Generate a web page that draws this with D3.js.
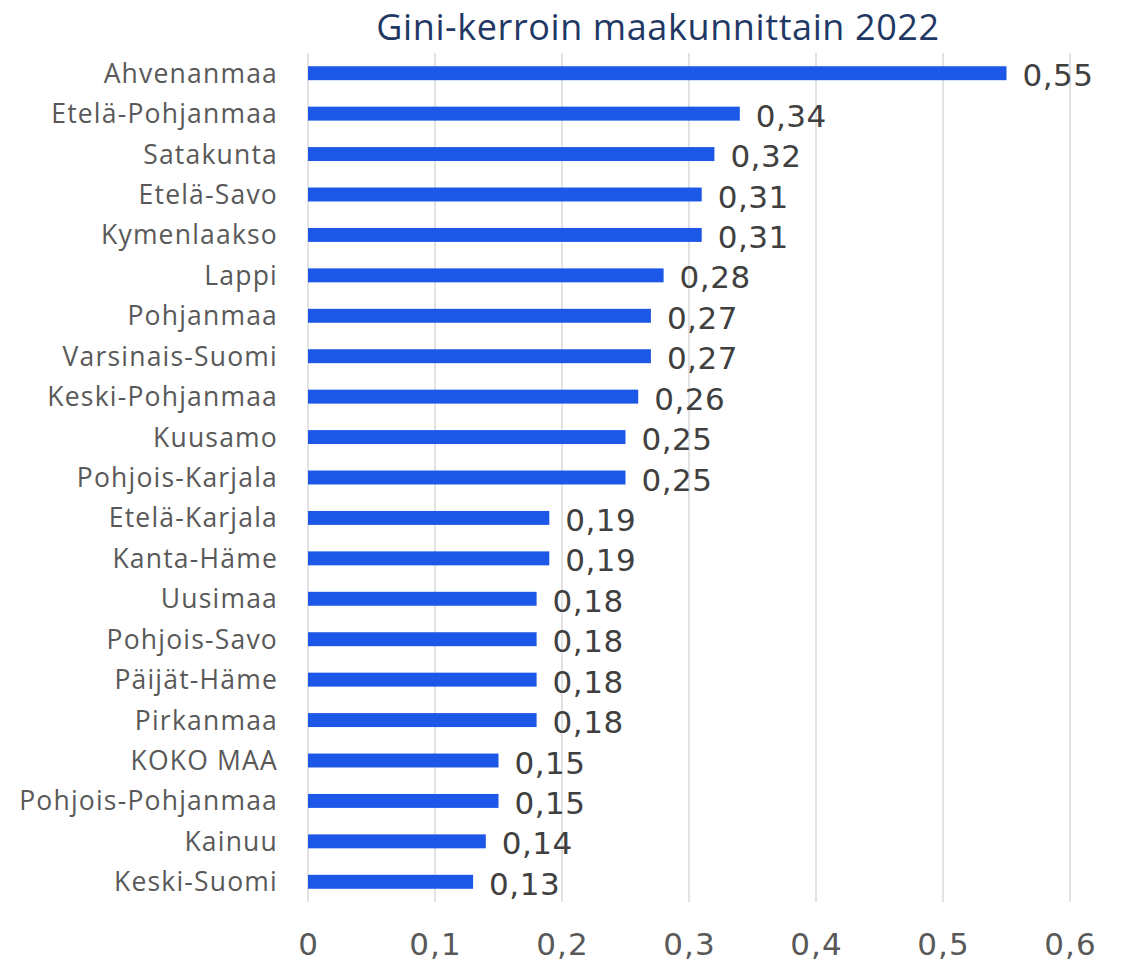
<!DOCTYPE html>
<html>
<head>
<meta charset="utf-8">
<script src="https://cdn.jsdelivr.net/npm/d3@7"></script>
<style>
  body { margin: 0; background: #fff; }
  svg { display: block; }
</style>
</head>
<body>
<script>
const width = 1125;
const height = 965;

const titleText = 'Gini-kerroin maakunnittain 2022';

// regions, top to bottom
const regions = ['Ahvenanmaa', 'Etelä-Pohjanmaa', 'Satakunta', 'Etelä-Savo', 'Kymenlaakso',
  'Lappi', 'Pohjanmaa', 'Varsinais-Suomi', 'Keski-Pohjanmaa', 'Kuusamo', 'Pohjois-Karjala',
  'Etelä-Karjala', 'Kanta-Häme', 'Uusimaa', 'Pohjois-Savo', 'Päijät-Häme', 'Pirkanmaa',
  'KOKO MAA', 'Pohjois-Pohjanmaa', 'Kainuu', 'Keski-Suomi'];

const giniValues = [0.55, 0.34, 0.32, 0.31, 0.31, 0.28, 0.27, 0.27, 0.26, 0.25, 0.25,
  0.19, 0.19, 0.18, 0.18, 0.18, 0.18, 0.15, 0.15, 0.14, 0.13];

const xTicks = [0, 0.1, 0.2, 0.3, 0.4, 0.5, 0.6];

const plotLeft = 308, plotRight = 1070;
const plotTop = 53, plotBottom = 902;

const fmt = v => d3.format('.2~f')(v).replace('.', ',');

const svg = d3.select('body').append('svg')
  .attr('width', width)
  .attr('height', height);

const x = d3.scaleLinear()
  .domain([0, 0.6])
  .range([plotLeft, plotRight]);

const y = d3.scaleBand()
  .domain(regions)
  .range([plotTop, plotBottom])
  .paddingInner(0.655)
  .paddingOuter(0.3275);

// vertical gridlines
svg.append('g')
  .selectAll('line')
  .data(xTicks)
  .join('line')
  .attr('x1', d => x(d))
  .attr('x2', d => x(d))
  .attr('y1', plotTop)
  .attr('y2', plotBottom)
  .attr('stroke', '#d9d9d9')
  .attr('stroke-width', 1.5);

// x axis labels
const xAxis = d3.axisBottom(x)
  .tickValues(xTicks)
  .tickSize(0)
  .tickPadding(0)
  .tickFormat(d => d === 0 ? '0' : String(d).replace('.', ','));

const gx = svg.append('g')
  .attr('transform', 'translate(0,' + 955 + ')')
  .call(xAxis);
gx.select('.domain').remove();
gx.selectAll('text')
  .attr('font-family', 'DejaVu Sans, sans-serif')
  .attr('font-size', 31)
  .attr('letter-spacing', 1)
  .attr('fill', '#595959')
  .attr('dy', 0);

// bars
svg.append('g')
  .selectAll('rect')
  .data(regions)
  .join('rect')
  .attr('x', x(0))
  .attr('y', d => y(d))
  .attr('width', (d, i) => x(giniValues[i]) - x(0))
  .attr('height', y.bandwidth())
  .attr('fill', '#1c57e8');

// y axis labels
const yAxis = d3.axisLeft(y)
  .tickSize(0)
  .tickPadding(30);

const gy = svg.append('g')
  .attr('transform', 'translate(' + plotLeft + ',0)')
  .call(yAxis);
gy.select('.domain').remove();
gy.selectAll('text')
  .attr('font-family', 'Open Sans, sans-serif')
  .attr('font-size', 26.5)
  .attr('letter-spacing', 1.2)
  .attr('fill', '#595959')
  .attr('dy', '0.36em');

// value labels
svg.append('g')
  .selectAll('text')
  .data(regions)
  .join('text')
  .attr('x', (d, i) => x(giniValues[i]) + 16)
  .attr('y', d => y(d) + y.bandwidth() / 2 + 13)
  .attr('font-family', 'DejaVu Sans, sans-serif')
  .attr('font-size', 31)
  .attr('letter-spacing', 0.5)
  .attr('fill', '#404040')
  .text((d, i) => fmt(giniValues[i]));

// title
svg.append('text')
  .attr('x', 658)
  .attr('y', 39.5)
  .attr('text-anchor', 'middle')
  .attr('font-family', 'Open Sans, sans-serif')
  .attr('font-size', 36)
  .attr('letter-spacing', 0.6)
  .attr('fill', '#1f3864')
  .text(titleText);
</script>
</body>
</html>
